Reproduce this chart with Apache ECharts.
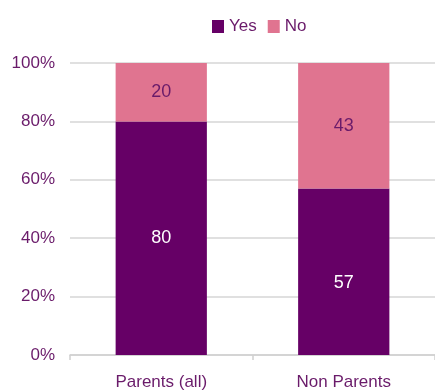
<!DOCTYPE html>
<html>
<head>
<meta charset="utf-8">
<style>
  html, body { margin: 0; padding: 0; background: #ffffff; }
  #chart { width: 435px; height: 391px; }
</style>
<script src="https://cdn.jsdelivr.net/npm/echarts@6/dist/echarts.min.js"></script>
</head>
<body>
<div id="chart"></div>
<script>
// Share of respondents answering Yes / No, by group (percent)
const categories = ['Parents (all)', 'Non Parents'];
const yesValues = [80, 57];
const noValues = [20, 43];
const yTicks = [0, 20, 40, 60, 80, 100];

const textColor = '#6a1b6a';
const fontFamily = '"Liberation Sans", Arial, sans-serif';
const fontSize = 17;
const barLabelSize = 18;

// The Non Parents "Yes" label sits a little below the middle of its bar
const yesLabelOffsets = [[0, 0], [0, 11]];

const chart = echarts.init(document.getElementById('chart'));
chart.setOption({
  animation: false,
  textStyle: { fontFamily: fontFamily },
  legend: {
    top: 13,
    left: 207,
    icon: 'rect',
    itemWidth: 12,
    itemHeight: 13,
    itemGap: 11,
    textStyle: { color: textColor, fontSize: fontSize, fontFamily: fontFamily },
    data: ['Yes', 'No']
  },
  grid: { left: 70, top: 63, width: 370, height: 292, containLabel: false },
  xAxis: {
    type: 'category',
    data: categories,
    axisLine: { show: true, lineStyle: { color: '#d0d0d0', width: 1.5 } },
    axisTick: { show: true, length: 5, lineStyle: { color: '#d0d0d0', width: 1.5 } },
    axisLabel: { color: textColor, fontSize: fontSize, margin: 19, fontFamily: fontFamily }
  },
  yAxis: {
    type: 'value',
    min: yTicks[0],
    max: yTicks[yTicks.length - 1],
    interval: 20,
    axisLine: { show: false },
    axisTick: { show: false },
    axisLabel: { color: textColor, fontSize: fontSize, margin: 15, formatter: '{value}%', fontFamily: fontFamily },
    splitLine: { lineStyle: { color: '#d6d6d6', width: 1.5 } }
  },
  series: [
    {
      name: 'Yes',
      type: 'bar',
      stack: 'total',
      barWidth: '50%',
      data: yesValues.map((v, i) => ({ value: v, label: { offset: yesLabelOffsets[i] } })),
      itemStyle: { color: '#660066' },
      label: { show: true, position: 'inside', color: '#ffffff', fontSize: barLabelSize, fontFamily: fontFamily }
    },
    {
      name: 'No',
      type: 'bar',
      stack: 'total',
      barWidth: '50%',
      data: noValues,
      itemStyle: { color: '#e07490' },
      label: { show: true, position: 'inside', color: textColor, fontSize: barLabelSize, fontFamily: fontFamily }
    }
  ]
});
</script>
</body>
</html>
